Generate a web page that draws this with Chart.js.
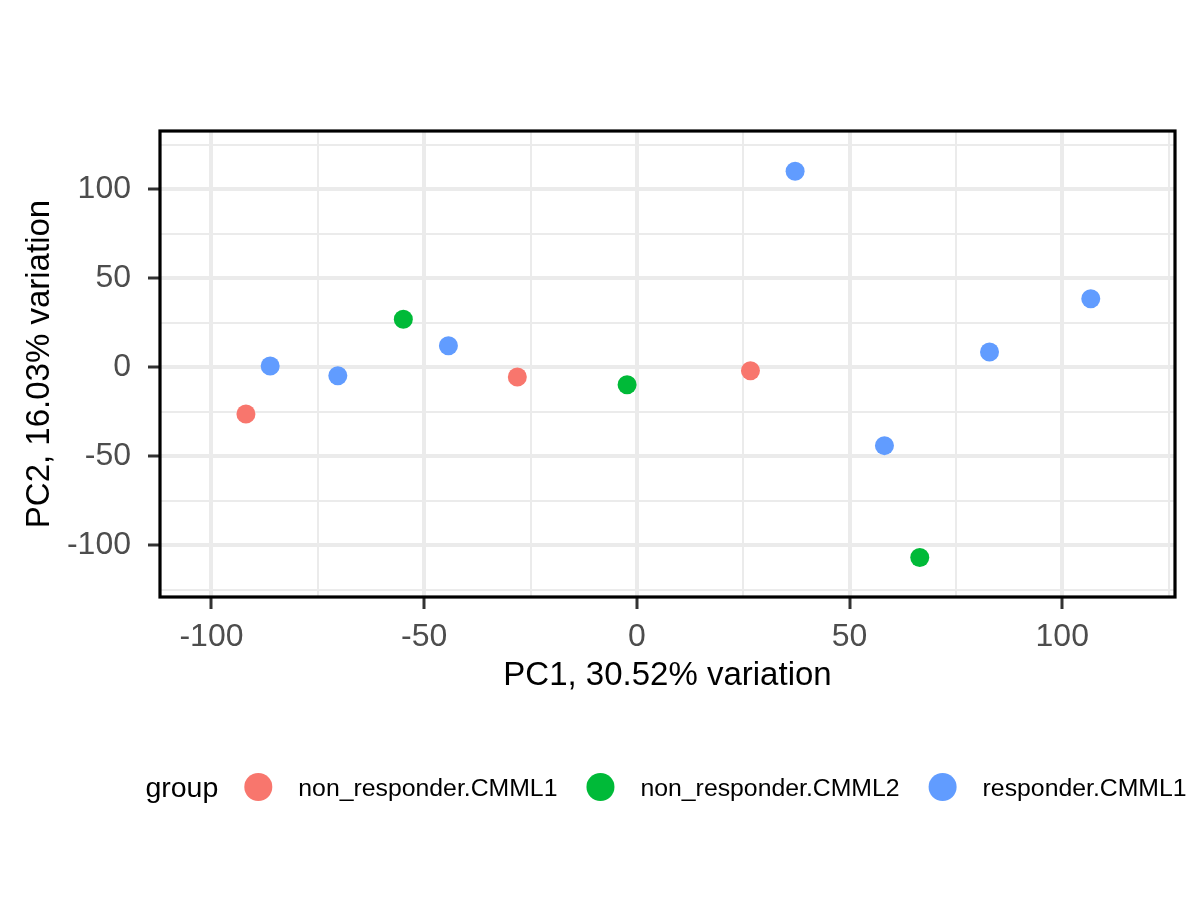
<!DOCTYPE html>
<html lang="en">
<head>
<meta charset="utf-8" />
<title>PCA plot</title>
<script src="https://cdn.jsdelivr.net/npm/chart.js@4.4.0/dist/chart.umd.min.js"></script>
<style>
    html, body { margin: 0; padding: 0; background: #ffffff; }
</style>
</head>
<body>
<canvas id="pcaPlot" width="1200" height="900"></canvas>
<script>
    // groups + colours (ggplot default hues)
    var groupNames = ["non_responder.CMML1", "non_responder.CMML2", "responder.CMML1"];
    var groupColors = ["#F8766D", "#00BA38", "#619CFF"];

    // PC scores
    var pc1NonResp1 = [-91.9, -28.1, 26.7];
    var pc2NonResp1 = [-26.2, -5.4, -1.9];
    var pc1NonResp2 = [-54.9, -2.3, 66.5];
    var pc2NonResp2 = [27.0, -9.8, -106.8];
    var pc1Resp1 = [-86.2, -70.3, -44.3, 37.2, 58.2, 82.9, 106.7];
    var pc2Resp1 = [0.7, -4.7, 12.1, 110.1, -44.0, 8.6, 38.5];

    // axes
    var xLabel = "PC1, 30.52% variation";
    var yLabel = "PC2, 16.03% variation";
    var xMajor = [-100, -50, 0, 50, 100];
    var xMinor = [-75, -25, 25, 75, 125];
    var yMajor = [-100, -50, 0, 50, 100];
    var yMinor = [-125, -75, -25, 25, 75, 125];
    var xRange = [-112.1, 126.5];
    var yRange = [-129.0, 132.7];
    var legendTitle = "group";

    var fontFamily = "'Liberation Sans', Arial, Helvetica, sans-serif";

    function toPoints(xs, ys) {
        return xs.map(function (x, i) { return { x: x, y: ys[i] }; });
    }

    function allTicks(major, minor) {
        return major.concat(minor).sort(function (a, b) { return a - b; });
    }

    var seriesX = [pc1NonResp1, pc1NonResp2, pc1Resp1];
    var seriesY = [pc2NonResp1, pc2NonResp2, pc2Resp1];

    var datasets = groupNames.map(function (name, i) {
        return {
            label: name,
            data: toPoints(seriesX[i], seriesY[i]),
            backgroundColor: groupColors[i],
            borderWidth: 0,
            pointRadius: 9.5,
            pointHoverRadius: 9.5
        };
    });

    function axisGrid(major) {
        return {
            color: "#EBEBEB",
            lineWidth: function (ctx) { return ctx.tick && major.indexOf(ctx.tick.value) >= 0 ? 4 : 2; },
            drawTicks: true,
            tickLength: 12,
            tickWidth: 3,
            tickColor: function (ctx) { return ctx.tick && major.indexOf(ctx.tick.value) >= 0 ? "#333333" : "rgba(0,0,0,0)"; }
        };
    }

    // panel border + legend like ggplot's bottom legend
    var ggExtras = {
        id: "ggExtras",
        afterDraw: function (chart) {
            var ctx = chart.ctx;
            var a = chart.chartArea;
            ctx.save();
            ctx.strokeStyle = "#000000";
            ctx.lineWidth = 3.2;
            ctx.strokeRect(a.left, a.top, a.right - a.left, a.bottom - a.top);

            // legend
            var legendY = 787;
            var r = 14;
            var keyGap = 40, itemGap = 43;
            ctx.textBaseline = "middle";
            ctx.textAlign = "left";
            ctx.font = "28.5px " + fontFamily;
            var titleW = ctx.measureText(legendTitle).width;
            ctx.font = "24.8px " + fontFamily;
            var labelW = groupNames.map(function (n) { return ctx.measureText(n).width; });
            var total = titleW + keyGap;
            labelW.forEach(function (w, i) { total += keyGap + w + (i < labelW.length - 1 ? itemGap : 0); });
            var x = (a.left + a.right) / 2 - 1.5 - total / 2;

            ctx.fillStyle = "#000000";
            ctx.font = "28.5px " + fontFamily;
            ctx.fillText(legendTitle, x, legendY + 2);
            x += titleW + keyGap;
            ctx.font = "24.8px " + fontFamily;
            groupNames.forEach(function (n, i) {
                ctx.beginPath();
                ctx.arc(x, legendY, r, 0, Math.PI * 2);
                ctx.fillStyle = groupColors[i];
                ctx.fill();
                ctx.fillStyle = "#000000";
                ctx.fillText(n, x + keyGap, legendY + 2);
                x += keyGap + labelW[i] + itemGap;
            });
            ctx.restore();
        }
    };

    var pcaChart = new Chart(document.getElementById("pcaPlot").getContext("2d"), {
        type: "scatter",
        data: { datasets: datasets },
        options: {
            responsive: false,
            devicePixelRatio: 1,
            animation: false,
            layout: { padding: { top: 131, right: 25, bottom: 193, left: 0 } },
            plugins: {
                legend: { display: false },
                tooltip: { enabled: false }
            },
            scales: {
                x: {
                    type: "linear",
                    min: xRange[0],
                    max: xRange[1],
                    afterBuildTicks: function (s) { s.ticks = allTicks(xMajor, xMinor).map(function (v) { return { value: v }; }); },
                    afterFit: function (s) { s.height = 110; },
                    grid: axisGrid(xMajor),
                    border: { display: false },
                    ticks: {
                        autoSkip: false,
                        maxRotation: 0,
                        padding: 9,
                        color: "#4D4D4D",
                        font: { family: fontFamily, size: 32 },
                        callback: function (v) { return xMajor.indexOf(v) >= 0 ? String(v) : ""; }
                    },
                    title: {
                        display: true,
                        text: xLabel,
                        color: "#000000",
                        font: { family: fontFamily, size: 33 },
                        padding: { top: 0, bottom: 11 }
                    }
                },
                y: {
                    type: "linear",
                    min: yRange[0],
                    max: yRange[1],
                    afterBuildTicks: function (s) { s.ticks = allTicks(yMajor, yMinor).map(function (v) { return { value: v }; }); },
                    afterFit: function (s) { s.width = 160; },
                    grid: axisGrid(yMajor),
                    border: { display: false },
                    ticks: {
                        autoSkip: false,
                        padding: 17,
                        color: "#4D4D4D",
                        font: { family: fontFamily, size: 32 },
                        callback: function (v) { return yMajor.indexOf(v) >= 0 ? String(v) : ""; }
                    },
                    title: {
                        display: true,
                        text: yLabel,
                        color: "#000000",
                        font: { family: fontFamily, size: 33 },
                        padding: { top: 20, bottom: 0 }
                    }
                }
            }
        },
        plugins: [ggExtras]
    });
</script>
</body>
</html>
